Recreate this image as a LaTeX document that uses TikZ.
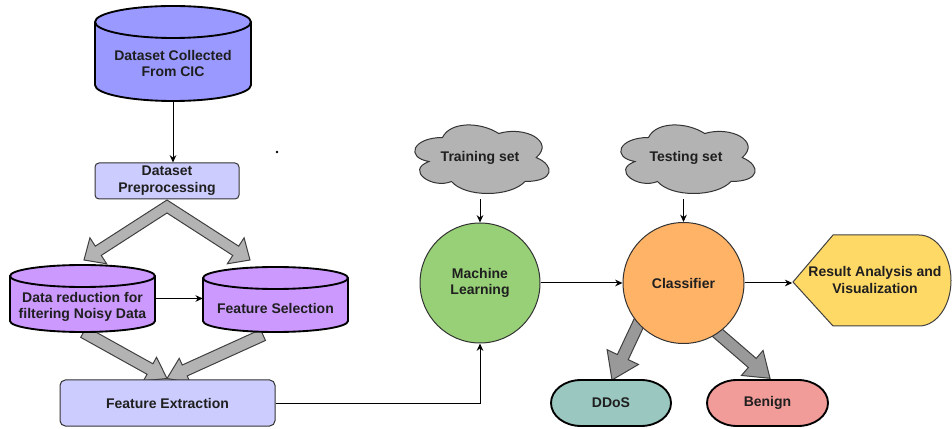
\documentclass[tikz,border=0pt]{standalone}
\usepackage{fontspec}
\setmainfont{Liberation Sans}
\usetikzlibrary{arrows.meta,calc}

% one drawing unit = one pixel of the layout grid
\newcommand\PX{*0.75pt}

\definecolor{srcblue}{HTML}{9999FF}
\definecolor{lav}{HTML}{CCCCFF}
\definecolor{purp}{HTML}{CC99FF}
\definecolor{cloudgray}{HTML}{B3B3B3}
\definecolor{mlgreen}{HTML}{97D077}
\definecolor{clsorange}{HTML}{FFB366}
\definecolor{resyellow}{HTML}{FFD966}
\definecolor{ddosteal}{HTML}{9AC7BF}
\definecolor{benignred}{HTML}{F19C99}
\definecolor{arrowlight}{HTML}{B3B3B3}
\definecolor{arrowdark}{HTML}{999999}

\tikzset{
  every node/.style={font=\bfseries\fontsize{10.5}{12.6}\selectfont, text=black!88, align=center},
  frame/.style={draw=none, inner sep=0pt},
  box/.style={draw=black!80, line width=0.75pt, rounded corners=3pt, inner sep=0pt},
  cylline/.style={draw=black, line width=1.4pt},
  flexline/.style={draw=black!75, line width=0.75pt, line join=miter},
  ball/.style={circle, draw=black!80, line width=0.75pt, inner sep=0pt},
  pillline/.style={draw=black, line width=1.4pt},
  cloudline/.style={draw=black!80, line width=0.75pt, fill=cloudgray},
  flow/.style={draw=black, line width=0.75pt, -{Stealth[length=5.5pt,width=5pt]}},
}

% cylinder: left, right, top, bottom, cap half-height, fill
\newcommand\cylinder[6]{%
  \pgfmathsetmacro\cylrx{(#2-#1)/2}
  \filldraw[cylline, fill=#6] (#1,#3-#5) -- (#1,#4+#5)
    arc[start angle=180,end angle=360,x radius=\cylrx,y radius=#5] -- (#2,#3-#5)
    arc[start angle=0,end angle=180,x radius=\cylrx,y radius=#5] -- cycle;
  \draw[cylline] (#1,#3-#5) arc[start angle=180,end angle=360,x radius=\cylrx,y radius=#5];
}

% block arrow: from, to, shaft half-width, head length, head half-width, fill
\newcommand\flexarrow[6]{%
  \coordinate (fa-h) at ($(#2)!#4!(#1)$);
  \filldraw[flexline, fill=#6] ($(#1)!#3!90:(#2)$) -- ($(fa-h)!#3!90:(#2)$)
    -- ($(fa-h)!#5!90:(#2)$) -- (#2) -- ($(fa-h)!#5!-90:(#2)$)
    -- ($(fa-h)!#3!-90:(#2)$) -- ($(#1)!#3!-90:(#2)$) -- cycle;
}

% cloud in a 150 x 80 box: left, bottom
\newcommand\cloudshape[2]{%
  \begin{scope}[shift={(#1,#2)}]
  \filldraw[cloudline, x=112.5pt, y=60pt] (0.25,0.75)
    .. controls (0.05,0.75) and (0,0.5) .. (0.16,0.45)
    .. controls (0,0.34) and (0.18,0.1) .. (0.31,0.2)
    .. controls (0.4,0) and (0.7,0) .. (0.8,0.2)
    .. controls (1,0.2) and (1,0.4) .. (0.875,0.5)
    .. controls (1,0.7) and (0.8,0.9) .. (0.625,0.8)
    .. controls (0.5,0.95) and (0.3,0.95) .. (0.25,0.75) -- cycle;
  \end{scope}
}

% stadium with elliptic ends: centre x, centre y, width, height, end width, fill
\newcommand\pillshape[6]{%
  \filldraw[pillline, fill=#6] (#1-#3/2+#5,#2+#4/2) -- (#1+#3/2-#5,#2+#4/2)
    arc[start angle=90,end angle=-90,x radius=#5,y radius=#4/2]
    -- (#1-#3/2+#5,#2-#4/2)
    arc[start angle=270,end angle=90,x radius=#5,y radius=#4/2] -- cycle;
}

\begin{document}
\begin{tikzpicture}[x=0.75pt,y=0.75pt]
\useasboundingbox (0,0) rectangle (952,428);

% outlines of the storage shapes and the result display
\node[frame, minimum width=156\PX, minimum height=95\PX] (src) at (173,374.5) {};
\node[frame, minimum width=145\PX, minimum height=67\PX] (red) at (82.5,129.5) {};
\node[frame, minimum width=145\PX, minimum height=65\PX] (fsel) at (275.5,128.5) {};
\node[frame, minimum width=159\PX, minimum height=91\PX] (res) at (872,147.5) {};

% split of the preprocessed data into two branches
\coordinate (cv-c) at (167,221.5);
\coordinate (cv-l) at (84,168);
\coordinate (cv-r) at (250,168);
\coordinate (cv-hl) at ($(cv-l)!12.75pt!(cv-c)$);
\coordinate (cv-hr) at ($(cv-r)!12.75pt!(cv-c)$);
\filldraw[flexline, fill=arrowlight] (167,228)
  -- ($(cv-hl)!4.125pt!-90:(cv-l)$) -- ($(cv-hl)!11.6pt!-90:(cv-l)$) -- (cv-l)
  -- ($(cv-hl)!11.6pt!90:(cv-l)$) -- ($(cv-hl)!4.125pt!90:(cv-l)$)
  -- (167,215)
  -- ($(cv-hr)!4.125pt!-90:(cv-r)$) -- ($(cv-hr)!11.6pt!-90:(cv-r)$) -- (cv-r)
  -- ($(cv-hr)!11.6pt!90:(cv-r)$) -- ($(cv-hr)!4.125pt!90:(cv-r)$) -- cycle;

% both branches merge into feature extraction
\coordinate (fx-a) at (83.6,95.9);
\coordinate (fx-b) at (263,93);
\coordinate (fx-t) at (167,49.5);
\flexarrow{fx-a}{fx-t}{4.5pt}{14.6pt}{10.1pt}{arrowlight}
\flexarrow{fx-b}{fx-t}{4.5pt}{14.6pt}{10pt}{arrowlight}

% classifier outputs
\coordinate (cl-a) at (644,116);
\coordinate (cl-d) at (612,48);
\coordinate (cl-b) at (705.7,105.3);
\coordinate (cl-n) at (770,49.7);
\flexarrow{cl-a}{cl-d}{4.5pt}{19pt}{13pt}{arrowdark}
\flexarrow{cl-b}{cl-n}{4.5pt}{17.6pt}{12.4pt}{arrowdark}

\cylinder{95}{251}{422}{327}{16}{srcblue}
\cylinder{10}{155}{163}{96}{11}{purp}
\cylinder{203}{348}{161}{96}{11}{purp}

\filldraw[flexline, fill=resyellow] (793,146) -- (833,193) -- (919,193)
  arc[start angle=90,end angle=-90,x radius=32,y radius=45.5] -- (833,102) -- cycle;

\cloudshape{405}{230.5}
\cloudshape{611}{230.5}
\pillshape{611}{25}{120}{46}{30}{ddosteal}
\pillshape{767.5}{25}{121}{46}{30}{benignred}

% texts and boxes
\node (srctxt) at (173,364.5) {Dataset Collected\\From CIC};
\node (redtxt) at (82.5,121) {Data reduction for\\filtering Noisy Data};
\node (fseltxt) at (275.5,120) {Feature Selection};
\node (restxt) at (875,148) {Result Analysis and\\Visualization};

\node[box, fill=lav, minimum width=144\PX, minimum height=36\PX] (pre) at (167,247) {Dataset\\Preprocessing};
\node[box, fill=lav, minimum width=215\PX, minimum height=46\PX, rounded corners=4pt] (fex) at (167.5,25) {Feature Extraction};

\node[frame, minimum width=150\PX, minimum height=80\PX] (train) at (480,270.5) {Training set};
\node[frame, minimum width=150\PX, minimum height=80\PX] (test) at (686,270.5) {Testing set};

\node[ball, fill=mlgreen, minimum size=120\PX] (ml) at (480,145) {Machine\\Learning};
\node[ball, fill=clsorange, minimum size=121\PX] (cls) at (683.5,145) {Classifier};

\node[frame, minimum width=120\PX, minimum height=46\PX] (ddos) at (611,25) {DDoS};
\node[frame, minimum width=121\PX, minimum height=46\PX] (benign) at (767.5,25) {Benign};

% connectors
\draw[flow] (src.south) -- (src.south |- pre.north);
\draw[flow] (red.east) -- (red.east -| fsel.west);
\draw[flow] (fex.east) -| (ml.south);
\draw[flow, shorten <=1.2pt] (train.south) -- (ml.north);
\draw[flow, shorten <=1.2pt] (cls.north |- test.south) -- (cls.north);
\draw[flow] (ml.east) -- (cls.west);
\draw[flow] (cls.east) -- (cls.east -| res.west);

\fill (277,276) circle (1.3);
\end{tikzpicture}
\end{document}
